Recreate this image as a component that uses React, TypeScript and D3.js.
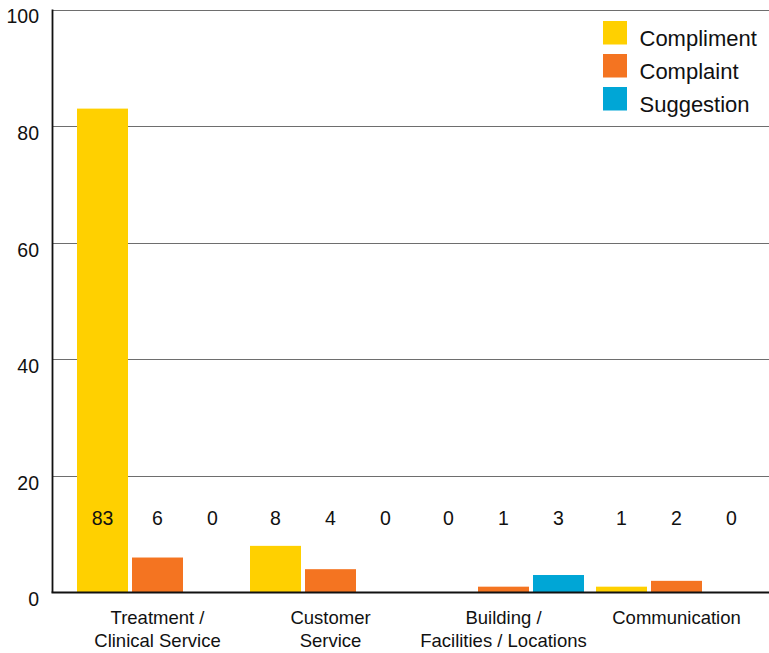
import React from "react";
import * as d3 from "d3";

const categories = ["Treatment /\nClinical Service", "Customer\nService", "Building /\nFacilities / Locations", "Communication"];
const seriesNames = ["Compliment", "Complaint", "Suggestion"];
const compliment = [83, 8, 0, 1];
const complaint = [6, 4, 1, 2];
const suggestion = [0, 0, 3, 0];
const seriesColors = ["#FFD000", "#F47421", "#00A6D6"];
const yTicks = [0, 20, 40, 60, 80, 100];

const W = 769;
const H = 653;
const FONT = "'Liberation Sans', Arial, Helvetica, sans-serif";

export default function App() {
  const values = [compliment, complaint, suggestion];
  const y = d3.scaleLinear().domain([0, 100]).range([592.5, 9.5]);
  const x0 = d3.scaleBand<string>().domain(categories).range([71, 763]).padding(0);
  const x1 = d3
    .scaleBand<string>()
    .domain(seriesNames)
    .range([6, 167])
    .paddingInner(4 / 55)
    .paddingOuter(0);
  const plotLeft = 52.5;
  const plotRight = W;
  const labelY = y(0) - 67.5;

  return (
    <svg width={W} height={H} style={{ position: "absolute", left: 0, top: 0 }} fontFamily={FONT}>
      <rect width={W} height={H} fill="#fff" />
      {yTicks.filter((t) => t > 0).map((t) => (
        <line key={t} x1={plotLeft} x2={plotRight} y1={Math.round(y(t)) + 0.5} y2={Math.round(y(t)) + 0.5} stroke="#6e6e6e" strokeWidth={1} />
      ))}
      {yTicks.map((t) => (
        <text key={t} x={39} y={y(t) + 13.8} textAnchor="end" fontSize={19.5} fill="#111">
          {t}
        </text>
      ))}
      {categories.map((c, ci) => (
        <g key={c} transform={`translate(${x0(c)},0)`}>
          {seriesNames.map((s, si) => {
            const v = values[si][ci];
            const bx = x1(s)!;
            return (
              <g key={s}>
                {v > 0 && (
                  <rect x={bx} y={y(v)} width={x1.bandwidth()} height={y(0) - y(v)} fill={seriesColors[si]} />
                )}
                <text x={bx + x1.bandwidth() / 2} y={labelY} textAnchor="middle" fontSize={19.5} fill="#111">
                  {v}
                </text>
              </g>
            );
          })}
          {c.split("\n").map((line, li) => (
            <text key={li} x={x0.bandwidth() / 2} y={624 + li * 22.5} textAnchor="middle" fontSize={18.5} fill="#111">
              {line}
            </text>
          ))}
        </g>
      ))}
      <line x1={plotLeft} x2={plotLeft} y1={y(100)} y2={y(0)} stroke="#111" strokeWidth={1.8} />
      <line x1={plotLeft - 1} x2={plotRight} y1={y(0)} y2={y(0)} stroke="#111" strokeWidth={2} />
      {seriesNames.map((s, i) => (
        <g key={s} transform={`translate(603,${21 + i * 33})`}>
          <rect x={0} y={0} width={24} height={23.5} fill={seriesColors[i]} />
          <text x={36.5} y={25} fontSize={22} fill="#111">
            {s}
          </text>
        </g>
      ))}
    </svg>
  );
}
